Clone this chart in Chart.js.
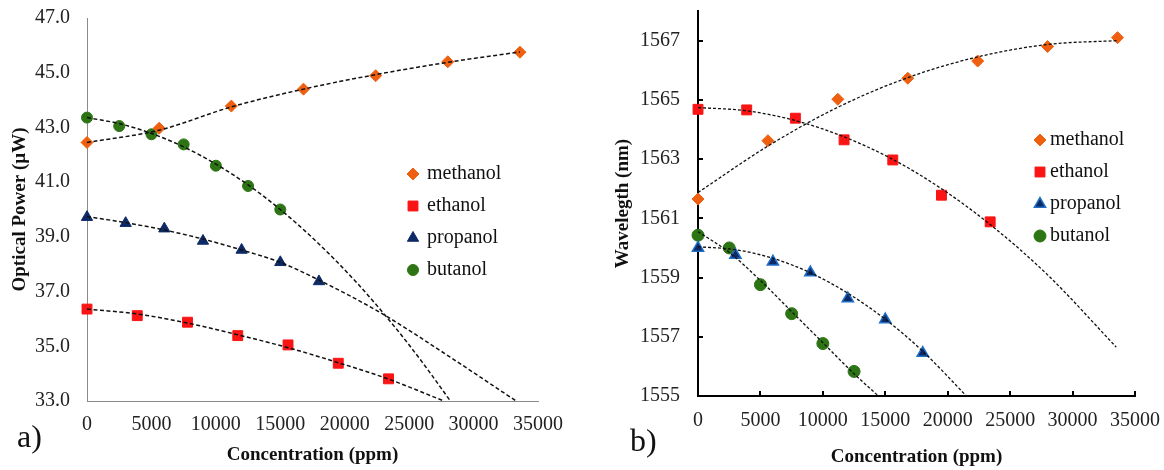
<!DOCTYPE html>
<html>
<head>
<meta charset="utf-8">
<script src="https://cdn.jsdelivr.net/npm/chart.js@4"></script>
<style>
  html, body { margin: 0; padding: 0; background: #fff; }
  #wrap { position: relative; width: 1164px; height: 470px; overflow: hidden; }
  .panel { position: absolute; top: 0; }
  .tag { position: absolute; font-family: "Liberation Serif", serif; font-size: 32px; line-height: 1; color: #111; }
</style>
</head>
<body>
<div id="wrap">
  <canvas id="chartA" class="panel" width="582" height="470" style="left:0"></canvas>
  <canvas id="chartB" class="panel" width="582" height="470" style="left:582px"></canvas>
  <div class="tag" style="left:17px;top:420px">a)</div>
  <div class="tag" style="left:630px;top:424px">b)</div>
</div>
<script>
// ---- data ----
const names = ["methanol", "ethanol", "propanol", "butanol"];

const concMethanol = [0, 5600, 11200, 16800, 22400, 28000, 33600];
const concEthanol = [0, 3900, 7800, 11700, 15600, 19500, 23400];
const concPropanol = [0, 3000, 6000, 9000, 12000, 15000, 18000];
const concButanolA = [0, 2500, 5000, 7500, 10000, 12500, 15000];
const concButanolB = [0, 2500, 5000, 7500, 10000, 12500];

// a) optical power (uW)
const powerMethanol = [42.45, 42.97, 43.78, 44.4, 44.89, 45.4, 45.75];
const powerEthanol = [36.36, 36.12, 35.88, 35.39, 35.05, 34.38, 33.81];
const powerPropanol = [39.72, 39.5, 39.3, 38.85, 38.52, 38.07, 37.37];
const powerButanol = [43.36, 43.05, 42.75, 42.38, 41.6, 40.86, 40.0];

// b) wavelength (nm)
const waveMethanol = [1561.65, 1563.62, 1565.02, 1565.73, 1566.31, 1566.8, 1567.1];
const waveEthanol = [1564.68, 1564.66, 1564.38, 1563.65, 1562.97, 1561.78, 1560.88];
const wavePropanol = [1560.0, 1559.76, 1559.53, 1559.17, 1558.29, 1557.58, 1556.45];
const waveButanol = [1560.43, 1560.0, 1558.76, 1557.78, 1556.77, 1555.83];

// dashed trend curves
const trendAMethX = [0, 5600, 11200, 16800, 22400, 28000, 33600];
const trendAMethY = [42.45, 42.9, 43.75, 44.4, 44.93, 45.38, 45.76];
const trendAEthX = [0, 3900, 7800, 11700, 15600, 19500, 23400, 27700];
const trendAEthY = [36.36, 36.18, 35.85, 35.42, 34.95, 34.4, 33.8, 33.0];
const trendAPropX = [0, 3000, 6000, 9000, 12000, 15000, 18000, 22800, 28000, 33300];
const trendAPropY = [39.74, 39.52, 39.25, 38.92, 38.52, 38.07, 37.42, 36.22, 34.66, 33.0];
const trendAButX = [0, 2500, 5000, 7500, 10000, 12500, 15000, 18000, 21000, 24000, 26000, 28200];
const trendAButY = [43.36, 43.14, 42.78, 42.29, 41.66, 40.9, 40.0, 38.74, 37.29, 35.64, 34.43, 33.0];

const trendBMethX = [0, 5600, 11200, 16800, 22400, 28000, 33600];
const trendBMethY = [1561.87, 1563.44, 1564.75, 1565.75, 1566.45, 1566.87, 1567.0];
const trendBEthX = [0, 3900, 7800, 11700, 15600, 19500, 23400, 28000, 33500];
const trendBEthY = [1564.74, 1564.63, 1564.3, 1563.75, 1562.99, 1562.0, 1560.79, 1559.09, 1556.65];
const trendBPropX = [0, 3000, 6000, 9000, 12000, 15000, 18000, 21500];
const trendBPropY = [1560.04, 1559.94, 1559.65, 1559.16, 1558.47, 1557.59, 1556.51, 1555.0];
const trendBButX = [0, 2500, 5000, 7500, 10000, 12500, 14450];
const trendBButY = [1560.55, 1559.85, 1558.9, 1557.85, 1556.8, 1555.75, 1555.0];

const powerTicks = [33, 35, 37, 39, 41, 43, 45, 47];
const waveTicks = [1555, 1557, 1559, 1561, 1563, 1565, 1567];
const concTicks = [0, 5000, 10000, 15000, 20000, 25000, 30000, 35000];

// ---- styling ----
const FONT = "Liberation Serif";
const markerStyle = {
    methanol: { pointStyle: "rectRot", radius: 6, fill: "#EE5F10", border: "#EE5F10", bw: 1 },
    ethanol: { pointStyle: "rect", radius: 7, fill: "#FA1414", border: "#FA1414", bw: 1 },
    propanol: { pointStyle: "triangle", radius: 6.5, fill: "#0E2A66", border: "#0E2A66", bw: 1 },
    butanol: { pointStyle: "circle", radius: 5.5, fill: "#2D7414", border: "#2D7414", bw: 1 },
};

const pts = (xs, ys) => xs.map((x, i) => ({ x: x, y: ys[i] }));

function markerSet(name, xs, ys, over) {
    const s = Object.assign({}, markerStyle[name], over || {});
    return {
        label: name,
        isMarker: true,
        data: pts(xs, ys),
        showLine: false,
        pointStyle: s.pointStyle,
        pointRadius: s.radius,
        pointBackgroundColor: s.fill,
        pointBorderColor: s.border,
        pointBorderWidth: s.bw,
        backgroundColor: s.fill,
        borderColor: s.border,
        borderWidth: s.bw,
        clip: false,
    };
}

function trendSet(xs, ys, width, dash) {
    return {
        label: "",
        data: pts(xs, ys),
        showLine: true,
        pointRadius: 0,
        borderColor: "#111",
        borderWidth: width,
        borderDash: dash,
        cubicInterpolationMode: "monotone",
        clip: false,
    };
}

// legend drawn inside the plot, marker + name per row
const markerLegend = {
    id: "markerLegend",
    afterDatasetsDraw(chart, args, opts) {
        const ctx = chart.ctx;
        ctx.save();
        ctx.font = "20px " + FONT;
        ctx.textBaseline = "middle";
        let row = 0;
        chart.data.datasets.forEach(ds => {
            if (!ds.isMarker) return;
            const y = opts.top + row * opts.rowGap;
            ctx.fillStyle = ds.pointBackgroundColor;
            ctx.strokeStyle = ds.pointBorderColor;
            ctx.lineWidth = ds.pointBorderWidth;
            Chart.helpers.drawPoint(ctx, {
                pointStyle: ds.pointStyle, radius: ds.pointRadius, rotation: 0, borderWidth: ds.pointBorderWidth
            }, opts.left, y);
            ctx.fillStyle = "#111";
            ctx.fillText(ds.label, opts.left + opts.textGap, y);
            row++;
        });
        ctx.restore();
    }
};

// short tick marks pointing into the plot (panel b)
const innerTicks = {
    id: "innerTicks",
    beforeDatasetsDraw(chart, args, opts) {
        if (!opts.length) return;
        const { ctx, chartArea, scales } = chart;
        ctx.save();
        ctx.strokeStyle = "#000";
        ctx.lineWidth = 2;
        ctx.beginPath();
        scales.x.ticks.forEach(t => {
            const px = Math.round(scales.x.getPixelForValue(t.value));
            ctx.moveTo(px, chartArea.bottom);
            ctx.lineTo(px, chartArea.bottom - opts.length);
        });
        scales.y.ticks.forEach(t => {
            const py = Math.round(scales.y.getPixelForValue(t.value));
            ctx.moveTo(chartArea.left, py);
            ctx.lineTo(chartArea.left + opts.length, py);
        });
        ctx.stroke();
        ctx.restore();
    }
};

function axisX(p) {
    return {
        type: "linear",
        min: 0,
        max: 35000,
        afterBuildTicks: s => { s.ticks = concTicks.map(v => ({ value: v })); },
        afterFit: s => { s.height = p.height; s.paddingLeft = 0; s.paddingRight = 0; },
        grid: { display: true, drawOnChartArea: false, drawTicks: false },
        border: { display: true, color: p.axisColor, width: p.axisWidth },
        ticks: {
            padding: p.tickPad, color: "#222", autoSkip: false, maxRotation: 0,
            font: { family: FONT, size: 20 },
            callback: v => String(v)
        },
        title: {
            display: true, text: "Concentration (ppm)", color: "#111",
            font: { family: FONT, size: 19, weight: "bold" },
            padding: { top: 0, bottom: p.titlePad }
        }
    };
}

function axisY(p) {
    return {
        type: "linear",
        min: p.min,
        max: p.max,
        afterBuildTicks: s => { s.ticks = p.ticks.map(v => ({ value: v })); },
        afterFit: s => { s.width = p.width; s.paddingTop = 0; s.paddingBottom = 0; },
        grid: { display: true, drawOnChartArea: false, drawTicks: false },
        border: { display: true, color: p.axisColor, width: p.axisWidth },
        ticks: {
            padding: p.tickPad, color: "#222", autoSkip: false,
            font: { family: FONT, size: 20 },
            callback: p.format
        },
        title: {
            display: true, text: p.title, color: "#111",
            font: { family: FONT, size: 19, weight: "bold" },
            padding: { top: p.titlePad, bottom: 0 }
        }
    };
}

// ---- a) optical power ----
new Chart(document.getElementById("chartA").getContext("2d"), {
    type: "scatter",
    data: {
        datasets: [
            trendSet(trendAMethX, trendAMethY, 1.5, [4, 2.5]),
            trendSet(trendAEthX, trendAEthY, 1.5, [4, 2.5]),
            trendSet(trendAPropX, trendAPropY, 1.5, [4, 2.5]),
            trendSet(trendAButX, trendAButY, 1.5, [4, 2.5]),
            markerSet(names[0], concMethanol, powerMethanol),
            markerSet(names[1], concEthanol, powerEthanol),
            markerSet(names[2], concPropanol, powerPropanol),
            markerSet(names[3], concButanolA, powerButanol),
        ]
    },
    plugins: [innerTicks, markerLegend],
    options: {
        responsive: false,
        animation: false,
        devicePixelRatio: 1,
        layout: { padding: { left: 0, top: 18, right: 44, bottom: 0 } },
        plugins: {
            legend: { display: false },
            tooltip: { enabled: false },
            innerTicks: { length: 0 },
            markerLegend: { left: 413, top: 174, rowGap: 32, textGap: 14 }
        },
        scales: {
            x: axisX({ height: 69, tickPad: 12, titlePad: 4, axisColor: "#8a8a8a", axisWidth: 1 }),
            y: axisY({
                min: 33, max: 47, ticks: powerTicks, width: 87, tickPad: 17, titlePad: 9,
                axisColor: "#8a8a8a", axisWidth: 1, title: "Optical Power (\u00b5W)",
                format: v => v.toFixed(1)
            })
        }
    }
});

// ---- b) wavelength ----
new Chart(document.getElementById("chartB").getContext("2d"), {
    type: "scatter",
    data: {
        datasets: [
            trendSet(trendBMethX, trendBMethY, 1.3, [3, 2]),
            trendSet(trendBEthX, trendBEthY, 1.3, [3, 2]),
            trendSet(trendBPropX, trendBPropY, 1.3, [3, 2]),
            trendSet(trendBButX, trendBButY, 1.3, [3, 2]),
            markerSet(names[0], concMethanol, waveMethanol),
            markerSet(names[1], concEthanol, waveEthanol),
            markerSet(names[2], concPropanol, wavePropanol, { border: "#1F6FC8", bw: 1.5 }),
            markerSet(names[3], concButanolB, waveButanol, { radius: 6 }),
        ]
    },
    plugins: [innerTicks, markerLegend],
    options: {
        responsive: false,
        animation: false,
        devicePixelRatio: 1,
        layout: { padding: { left: 0, top: 11, right: 29, bottom: 0 } },
        plugins: {
            legend: { display: false },
            tooltip: { enabled: false },
            innerTicks: { length: 5 },
            markerLegend: { left: 458, top: 140, rowGap: 32, textGap: 10 }
        },
        scales: {
            x: axisX({ height: 74, tickPad: 13, titlePad: 2, axisColor: "#000", axisWidth: 2 }),
            y: axisY({
                min: 1555, max: 1568, ticks: waveTicks, width: 116, tickPad: 18, titlePad: 30,
                axisColor: "#000", axisWidth: 2, title: "Wavelegth (nm)",
                format: v => String(v)
            })
        }
    }
});
</script>
</body>
</html>
